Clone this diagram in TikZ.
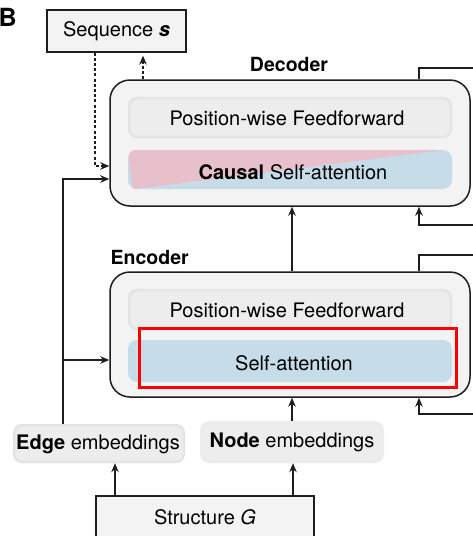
\documentclass[tikz,border=0pt]{standalone}
\usepackage{fontspec}
\setmainfont{TeX Gyre Heros}
\usetikzlibrary{arrows.meta,shadows}
\definecolor{outerfill}{HTML}{F3F3F3}
\definecolor{innerfill}{HTML}{EDEDED}
\definecolor{inneredge}{HTML}{E0E0E0}
\definecolor{innermid}{HTML}{E7E7E7}
\definecolor{saBlue}{HTML}{C6DCE8}
\definecolor{saPink}{HTML}{E8C0CC}
\definecolor{lineC}{HTML}{1E1E1E}
\tikzset{
  every node/.style={font=\fontsize{20}{24}\selectfont, text=black, inner sep=0pt},
  plainbox/.style={draw=lineC, line width=1.3pt, fill=outerfill, rectangle},
  outerbox/.style={draw=lineC, line width=1.5pt, fill=outerfill, rounded corners=20pt, minimum width=360pt},
  softbox/.style={fill=inneredge, rounded corners=9pt,
     path picture={
       \fill[innermid, rounded corners=8pt] ([shift={(1.2pt,-1.2pt)}]path picture bounding box.north west) rectangle ([shift={(-1.2pt,1.2pt)}]path picture bounding box.south east);
       \fill[innerfill, rounded corners=7pt] ([shift={(3pt,-3pt)}]path picture bounding box.north west) rectangle ([shift={(-2.5pt,2.5pt)}]path picture bounding box.south east);
     }},
  innerbox/.style={softbox, minimum width=324pt},
  sabox/.style={fill=saBlue, rounded corners=9pt, minimum width=324pt},
  conn/.style={draw=lineC, line width=1.3pt},
  arr/.style={conn, -{Stealth[length=9pt,width=7.5pt]}},
  dconn/.style={conn, dash pattern=on 3pt off 2.2pt},
  darr/.style={dconn, -{Stealth[length=9pt,width=7.5pt]}},
  title/.style={font=\fontsize{19.5}{23}\selectfont\bfseries}
}
\begin{document}
\begin{tikzpicture}[x=1pt,y=-1pt]
\clip (0,0) rectangle (473,536);
\fill[white] (0,0) rectangle (473,536);

% panel letter
\node[anchor=west, font=\fontsize{25}{28}\selectfont\bfseries] (lbl) at (-1.5,17) {B};

% sequence
\node[plainbox, minimum width=139pt, minimum height=42pt] (seq) at (116.5,31) {Sequence \textbf{\textit{s}}};

% decoder
\node[title] (dectitle) at (289,64) {Decoder};
\node[outerbox, minimum height=126pt] (dec) at (290,143) {};
\node[innerbox, minimum height=41pt] (decff) at (290,117.5) {};
\node (decfftext) at (287,118) {Position-wise Feedforward};
\node[sabox, minimum height=39pt] (decsa) at (290,169.5) {};
\begin{scope}
  \clip[rounded corners=9pt] (decsa.north west) rectangle (decsa.south east);
  \fill[saPink] (decsa.north west) -- ([xshift=-8pt]decsa.north east) -- ([xshift=5pt]decsa.south west) -- cycle;
\end{scope}
\node (decsatext) at (293,172) {\textbf{Causal} Self-attention};

% encoder
\node[title, anchor=west] (enctitle) at (110.5,257) {Encoder};
\node[outerbox, minimum height=125pt] (enc) at (290,334.5) {};
\node[innerbox, minimum height=41pt] (encff) at (290,309.5) {};
\node (encfftext) at (287,310) {Position-wise Feedforward};
\node[sabox, minimum height=42pt] (encsa) at (290,361) {};
\node (encsatext) at (294,363) {Self-attention};
\draw[red, line width=3pt] (139.5,328.5) rectangle (456.5,387.5);

% embeddings
\node[softbox, minimum width=172pt, minimum height=39pt] (edge) at (99,443.5) {};
\node (edgetext) at (98,444) {\textbf{Edge} embeddings};
\node[fill=innerfill, rounded corners=9pt, minimum width=184pt, minimum height=42pt] (nodee) at (292,442) {\textbf{Node} embeddings};

% structure
\node[plainbox, minimum width=218pt, minimum height=44pt] (struct) at (205,518) {};
\node (structtext) at (205,517) {Structure \textit{G}};

% connectors
\draw[darr] ([xshift=-21.5pt]seq.south) |- ([yshift=-23pt]dec.west);
\draw[darr] ([xshift=-147pt]dec.north) -- ([xshift=26.5pt,yshift=-3pt]seq.south);

\draw[arr] ([xshift=-36pt]edge.north) |- ([yshift=-36pt]dec.west);
\coordinate (br) at (63,360);
\draw[arr] (br) -- (br -| enc.west);

\draw[arr] ([xshift=2pt]enc.north) -- ([xshift=2pt]dec.south);
\draw[arr] (nodee.north) -- (nodee.north |- enc.south);

\coordinate (s1) at ([xshift=-90pt]struct.north);
\coordinate (s2) at ([xshift=88pt]struct.north);
\draw[arr] (s1) -- (s1 |- edge.south);
\draw[arr] (s2) -- (s2 |- nodee.south);

\coordinate (r1) at (474,68);
\coordinate (r2) at (474,225);
\coordinate (r3) at (474,255);
\coordinate (r4) at (474,414);
\draw[conn] (r1) -| ([xshift=129pt]dec.north);
\draw[arr] (r2) -| ([xshift=129pt]dec.south);
\draw[conn] (r3) -| ([xshift=129pt]enc.north);
\draw[arr] (r4) -| ([xshift=129pt]enc.south);
\end{tikzpicture}
\end{document}
